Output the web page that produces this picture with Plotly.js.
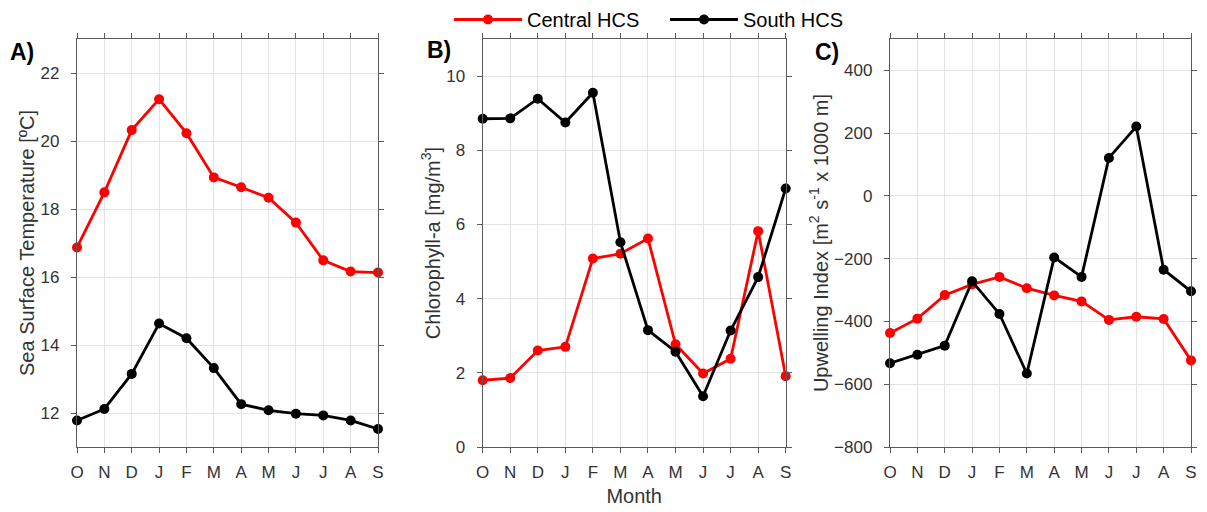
<!DOCTYPE html>
<html>
<head>
<meta charset="utf-8">
<script src="https://cdn.plot.ly/plotly-3.0.1.min.js"></script>
<style>html,body{margin:0;padding:0;background:#fff;}#chart{width:1207px;height:512px;}</style>
</head>
<body>
<div id="chart"></div>
<script>
const months = ['O','N','D','J','F','M','A','M','J','J','A','S'];
const monthIndex = [1,2,3,4,5,6,7,8,9,10,11,12];

const sstCentral = [16.87,18.49,20.32,21.23,20.23,18.93,18.64,18.33,17.6,16.49,16.16,16.13];
const sstSouth   = [11.78,12.12,13.15,14.63,14.2,13.32,12.26,12.08,11.98,11.93,11.78,11.53];

const chlCentral = [1.80,1.86,2.60,2.70,5.08,5.21,5.62,2.77,1.98,2.38,5.82,1.91];
const chlSouth   = [8.85,8.86,9.39,8.75,9.55,5.52,3.15,2.57,1.37,3.14,4.58,6.97];

const uiCentral = [-437,-391,-316,-282,-258,-294,-317,-336,-395,-385,-392,-524];
const uiSouth   = [-533,-506,-477,-272,-376,-566,-196,-258,121,221,-235,-304];

const seriesNames = ['Central HCS','South HCS'];
const RED = '#ff0000', BLACK = '#000000';

function tr(y, color, name, xa, ya, show) {
  return {
    x: monthIndex, y: y, type: 'scatter', mode: 'lines+markers',
    name: name, showlegend: show, legendgroup: name,
    line: {color: color, width: 2.8},
    marker: {color: color, size: 10},
    xaxis: xa, yaxis: ya, cliponaxis: false
  };
}

const data = [
  tr(sstCentral, RED, seriesNames[0], 'x', 'y', true),
  tr(sstSouth, BLACK, seriesNames[1], 'x', 'y', true),
  tr(chlCentral, RED, seriesNames[0], 'x2', 'y2', false),
  tr(chlSouth, BLACK, seriesNames[1], 'x2', 'y2', false),
  tr(uiCentral, RED, seriesNames[0], 'x3', 'y3', false),
  tr(uiSouth, BLACK, seriesNames[1], 'x3', 'y3', false)
];

const W = 1207, H = 512;
const yDom = [1 - 447/H, 1 - 39/H];
const FAM = 'Liberation Sans, Arial, sans-serif';
const tickFont = {family: FAM, size: 17, color: '#333333'};
const titleFont = {family: FAM, size: 20, color: '#333333'};

function xax(l, r, title) {
  const o = {
    domain: [l/W, r/W], range: [1, 12], tickvals: monthIndex, ticktext: months,
    showgrid: true, gridcolor: '#e3e3e3', gridwidth: 1,
    showline: true, linecolor: '#5a5a5a', linewidth: 1.2, mirror: 'ticks',
    ticks: 'outside', ticklen: 5, tickcolor: '#5a5a5a', tickfont: tickFont,
    ticklabelstandoff: 4,
    zeroline: false, fixedrange: true
  };
  if (title) o.title = {text: title, font: titleFont, standoff: 8};
  return o;
}
function yax(anchor, range, dtick, title, standoff) {
  return {
    domain: yDom, range: range, dtick: dtick, anchor: anchor,
    showgrid: true, gridcolor: '#e3e3e3', gridwidth: 1,
    showline: true, linecolor: '#5a5a5a', linewidth: 1.2, mirror: 'ticks',
    ticks: 'outside', ticklen: 5, tickcolor: '#5a5a5a', tickfont: tickFont,
    ticklabelstandoff: 8,
    zeroline: false, fixedrange: true,
    title: {text: title, font: titleFont, standoff: standoff}
  };
}

const layout = {
  width: W, height: H,
  margin: {l: 0, r: 0, t: 0, b: 0},
  paper_bgcolor: '#ffffff', plot_bgcolor: '#ffffff',
  font: {family: FAM, color: '#262626'},
  showlegend: true,
  legend: {
    orientation: 'h', x: 449/W, y: 1, xanchor: 'left', yanchor: 'top',
    itemwidth: 68, entrywidth: 133, font: {family: FAM, size: 20, color: '#000'},
    bgcolor: 'rgba(0,0,0,0)', tracegroupgap: 0, itemclick: false
  },
  xaxis: xax(77, 378),
  yaxis: yax('x', [11, 23], 2, 'Sea Surface Temperature [ºC]', 0),
  xaxis2: xax(482.7, 785.7, 'Month'),
  yaxis2: yax('x2', [0, 11], 2, 'Chlorophyll-a [mg/m<sup>3</sup>]', 0),
  xaxis3: xax(890, 1191),
  yaxis3: yax('x3', [-800, 500], 200, 'Upwelling Index [m<sup>2</sup> s<sup>-1</sup> x 1000 m]', 0),
  annotations: [
    {text: '<b>A)</b>', x: 8/W, y: 1 - 52/H, xref: 'paper', yref: 'paper', xanchor: 'left', yanchor: 'middle', showarrow: false, font: {family: FAM, size: 23, color: '#000'}},
    {text: '<b>B)</b>', x: 425/W, y: 1 - 50/H, xref: 'paper', yref: 'paper', xanchor: 'left', yanchor: 'middle', showarrow: false, font: {family: FAM, size: 23, color: '#000'}},
    {text: '<b>C)</b>', x: 813/W, y: 1 - 52/H, xref: 'paper', yref: 'paper', xanchor: 'left', yanchor: 'middle', showarrow: false, font: {family: FAM, size: 23, color: '#000'}}
  ]
};

Plotly.newPlot('chart', data, layout, {displayModeBar: false, staticPlot: true});
</script>
</body>
</html>
